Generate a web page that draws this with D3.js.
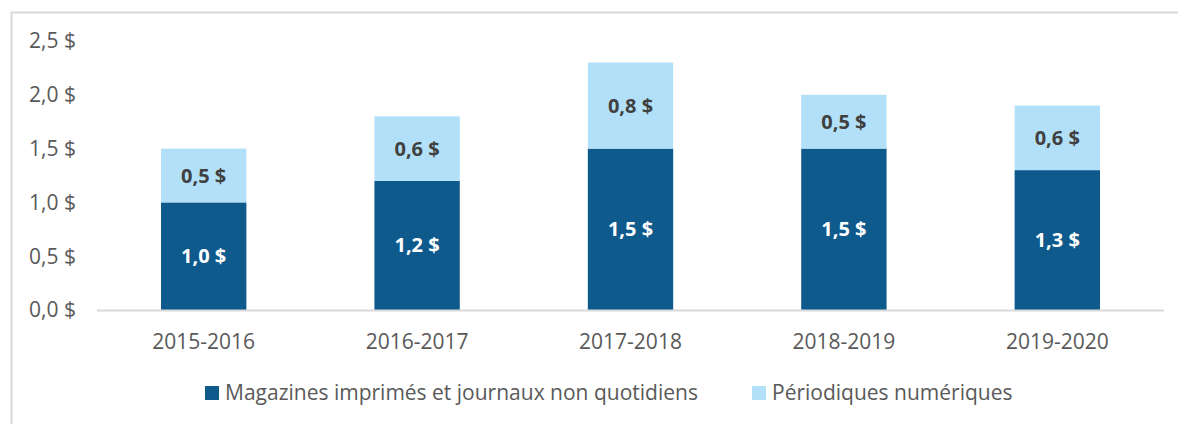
<!DOCTYPE html>
<html>
<head>
<meta charset="utf-8">
<script src="https://cdn.jsdelivr.net/npm/d3@7"></script>
<style>
  body { margin: 0; background: #fff; }
  svg { display: block; font-family: "Open Sans", sans-serif; }
</style>
</head>
<body>
<svg id="chart" width="1178" height="424"></svg>
<script>
var years = ["2015-2016", "2016-2017", "2017-2018", "2018-2019", "2019-2020"];
var imprimes = [1.0, 1.2, 1.5, 1.5, 1.3];
var numeriques = [0.5, 0.6, 0.8, 0.5, 0.6];
var yTicks = [0, 0.5, 1.0, 1.5, 2.0, 2.5];
var seriesNames = ["Magazines imprimés et journaux non quotidiens", "Périodiques numériques"];
var colors = ["#0f5a8c", "#b3e0f9"];

var svg = d3.select("#chart");

// frame
svg.append("rect")
    .attr("x", 11.5).attr("y", 12.5)
    .attr("width", 1300).attr("height", 600)
    .attr("fill", "none")
    .attr("stroke", "#d9d9d9")
    .attr("stroke-width", 2);

var x = d3.scaleBand().domain(years).range([97, 1164]).paddingInner(0.6).paddingOuter(0.3);
var y = d3.scaleLinear().domain([0, 2.5]).range([310, 41]);

function fmt(v) { return d3.format(".1f")(v).replace(".", ",") + " $"; }

// y labels
svg.append("g").selectAll("text")
    .data(yTicks)
  .enter().append("text")
    .attr("x", 76)
    .attr("y", function(d) { return y(d); })
    .attr("dy", "0.35em")
    .attr("text-anchor", "end")
    .attr("font-size", 21)
    .attr("fill", "#595959")
    .text(fmt);

var rows = years.map(function(yr, i) { return {year: yr, a: imprimes[i], b: numeriques[i]}; });

// dark segment
svg.append("g").selectAll("rect")
    .data(rows)
  .enter().append("rect")
    .attr("x", function(d) { return x(d.year); })
    .attr("width", x.bandwidth())
    .attr("y", function(d) { return y(d.a); })
    .attr("height", function(d) { return y(0) - y(d.a); })
    .attr("fill", colors[0]);

// light segment
svg.append("g").selectAll("rect")
    .data(rows)
  .enter().append("rect")
    .attr("x", function(d) { return x(d.year); })
    .attr("width", x.bandwidth())
    .attr("y", function(d) { return y(d.a + d.b); })
    .attr("height", function(d) { return y(d.a) - y(d.a + d.b); })
    .attr("fill", colors[1]);

// baseline
svg.append("line")
    .attr("x1", 97).attr("x2", 1164)
    .attr("y1", 310.5).attr("y2", 310.5)
    .attr("stroke", "#d9d9d9")
    .attr("stroke-width", 2);

// value labels
svg.append("g").selectAll("text")
    .data(rows)
  .enter().append("text")
    .attr("x", function(d) { return x(d.year) + x.bandwidth() / 2; })
    .attr("y", function(d) { return (y(0) + y(d.a)) / 2; })
    .attr("dy", "0.35em")
    .attr("text-anchor", "middle")
    .attr("font-size", 20)
    .attr("font-weight", "bold")
    .attr("fill", "#fff")
    .text(function(d) { return fmt(d.a); });

svg.append("g").selectAll("text")
    .data(rows)
  .enter().append("text")
    .attr("x", function(d) { return x(d.year) + x.bandwidth() / 2; })
    .attr("y", function(d) { return (y(d.a) + y(d.a + d.b)) / 2; })
    .attr("dy", "0.35em")
    .attr("text-anchor", "middle")
    .attr("font-size", 20)
    .attr("font-weight", "bold")
    .attr("fill", "#404040")
    .text(function(d) { return fmt(d.b); });

// category labels
svg.append("g").selectAll("text")
    .data(years)
  .enter().append("text")
    .attr("x", function(d) { return x(d) + x.bandwidth() / 2; })
    .attr("y", 342)
    .attr("dy", "0.35em")
    .attr("text-anchor", "middle")
    .attr("font-size", 21)
    .attr("fill", "#595959")
    .text(function(d) { return d; });

// legend
var legendX = [205, 752];
var legend = svg.append("g").selectAll("g")
    .data(seriesNames)
  .enter().append("g")
    .attr("transform", function(d, i) { return "translate(" + legendX[i] + ",393)"; });

legend.append("rect")
    .attr("x", 0).attr("y", -7)
    .attr("width", 14).attr("height", 14)
    .attr("fill", function(d, i) { return colors[i]; });

legend.append("text")
    .attr("x", 20)
    .attr("dy", "0.35em")
    .attr("font-size", 21)
    .attr("fill", "#595959")
    .text(function(d) { return d; });
</script>
</body>
</html>
